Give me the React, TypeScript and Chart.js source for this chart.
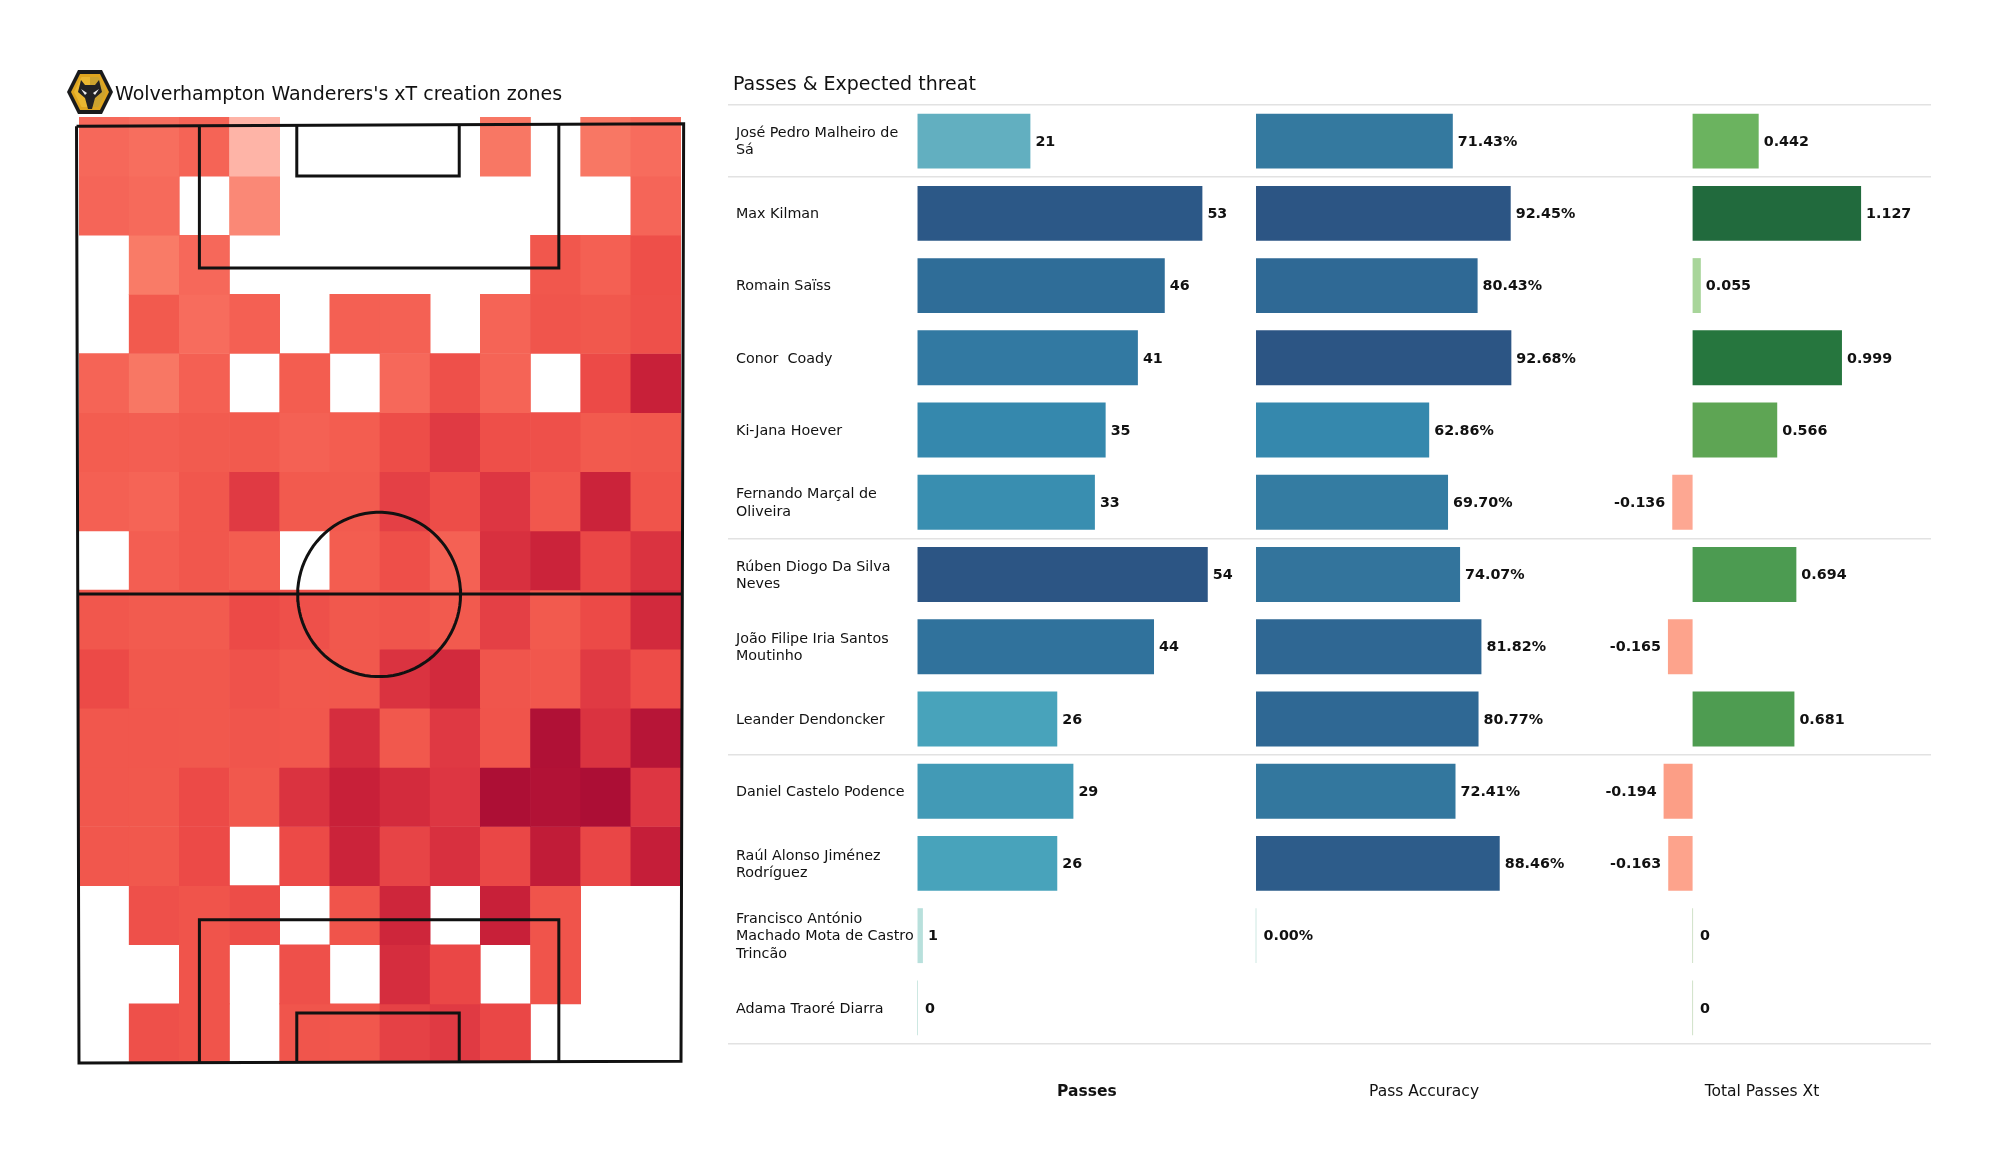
import React, { useEffect, useRef } from "react";
import { Chart, registerables } from "chart.js";

Chart.register(...registerables);

const FONT = "'DejaVu Sans', sans-serif";

// xT creation intensity per zone (row 0 = top of the pitch image); null = no xT
const zones: (number | null)[][] = [
  [0.3, 0.27, 0.33, 0.03, null, null, null, null, 0.22, null, 0.22, 0.28],
  [0.32, 0.29, null, 0.16, null, null, null, null, null, null, null, 0.32],
  [null, 0.2, 0.3, null, null, null, null, null, null, 0.42, 0.36, 0.47],
  [null, 0.4, 0.28, 0.36, null, 0.36, 0.35, null, 0.33, 0.43, 0.41, 0.46],
  [0.33, 0.22, 0.36, null, 0.38, null, 0.3, 0.46, 0.33, null, 0.5, 0.8],
  [0.38, 0.37, 0.39, 0.4, 0.35, 0.38, 0.48, 0.62, 0.47, 0.46, 0.4, 0.41],
  [0.36, 0.33, 0.42, 0.62, 0.4, 0.39, 0.58, 0.48, 0.65, 0.42, 0.78, 0.44],
  [null, 0.37, 0.42, 0.38, null, 0.38, 0.47, 0.35, 0.7, 0.78, 0.52, 0.68],
  [0.42, 0.39, 0.39, 0.5, 0.46, 0.41, 0.43, 0.4, 0.58, 0.4, 0.5, 0.74],
  [0.5, 0.41, 0.41, 0.45, 0.41, 0.41, 0.68, 0.74, 0.43, 0.42, 0.62, 0.49],
  [0.42, 0.42, 0.41, 0.43, 0.42, 0.72, 0.41, 0.63, 0.44, 0.97, 0.68, 0.92],
  [0.42, 0.41, 0.5, 0.41, 0.68, 0.8, 0.73, 0.65, 0.99, 0.96, 1, 0.65],
  [0.42, 0.41, 0.5, null, 0.5, 0.78, 0.55, 0.7, 0.52, 0.85, 0.53, 0.82],
  [null, 0.46, 0.44, 0.48, null, 0.44, 0.76, null, 0.8, 0.44, null, null],
  [null, null, 0.44, null, 0.46, null, 0.72, 0.52, null, 0.44, null, null],
  [null, 0.46, 0.44, null, 0.43, 0.42, 0.57, 0.62, 0.52, null, null, null],
];
const zoneColumns = ["1", "2", "3", "4", "5", "6", "7", "8", "9", "10", "11", "12"];

const heatStops: [number, number[]][] = [
  [0, [255, 190, 178]],
  [0.2, [249, 123, 103]],
  [0.3, [246, 104, 90]],
  [0.4, [242, 90, 78]],
  [0.5, [236, 74, 71]],
  [0.6, [226, 61, 68]],
  [0.7, [216, 48, 63]],
  [0.8, [200, 32, 57]],
  [1, [172, 14, 53]],
];

// Pitch drawn on a 68 x 105 metre frame (the picture is very slightly skewed)
const pitchOutline = [[-0.28, 0.14], [68.3, -0.14], [68, 104.8], [0, 105], [-0.28, 0.14]];
const topBox = [[13.6, 0], [13.6, 16], [54.2, 16], [54.2, 0]];
const topSix = [[24.6, 0], [24.6, 5.7], [42.95, 5.7], [42.95, 0]];
const bottomBox = [[13.6, 105], [13.6, 88.95], [54.2, 88.95], [54.2, 105]];
const bottomSix = [[24.6, 105], [24.6, 99.4], [42.95, 99.4], [42.95, 105]];
const halfway = [[0, 52.5], [68, 52.5]];
const circleRadius = 9.2;

const players = [
  ["José Pedro Malheiro de", "Sá"],
  "Max Kilman",
  "Romain Saïss",
  "Conor  Coady",
  "Ki-Jana Hoever",
  ["Fernando Marçal de", "Oliveira"],
  ["Rúben Diogo Da Silva", "Neves"],
  ["João Filipe Iria Santos", "Moutinho"],
  "Leander Dendoncker",
  "Daniel Castelo Podence",
  ["Raúl Alonso Jiménez", "Rodríguez"],
  ["Francisco António", "Machado Mota de Castro", "Trincão"],
  "Adama Traoré Diarra",
];
const passes = [21, 53, 46, 41, 35, 33, 54, 44, 26, 29, 26, 1, 0];
const accuracy = [71.43, 92.45, 80.43, 92.68, 62.86, 69.7, 74.07, 81.82, 80.77, 72.41, 88.46, 0, null];
const xtTotals = [0.442, 1.127, 0.055, 0.999, 0.566, -0.136, 0.694, -0.165, 0.681, -0.194, -0.163, 0, 0];
const columnTitles = ["Passes", "Pass Accuracy", "Total Passes Xt"];
const columnTitleAt = [31.5, 61, 0.464];
const separatorRows = [0, 1, 6, 9, 13];

const blueStops: [number, number[]][] = [
  [0, [205, 232, 226]],
  [1, [184, 224, 220]],
  [21, [98, 175, 192]],
  [26, [72, 163, 187]],
  [35, [53, 136, 173]],
  [46, [47, 109, 152]],
  [54, [44, 85, 132]],
];
const accuracyStops: [number, number[]][] = [
  [0, [205, 232, 226]],
  [62.86, [53, 136, 173]],
  [71.43, [52, 121, 159]],
  [81, [47, 104, 148]],
  [92.68, [44, 85, 132]],
];
const xtStops: [number, number[]][] = [
  [-0.2, [252, 157, 133]],
  [-0.13, [253, 168, 147]],
  [0, [208, 226, 200]],
  [0.055, [168, 213, 154]],
  [0.442, [107, 179, 95]],
  [0.566, [94, 165, 84]],
  [0.694, [76, 155, 81]],
  [1, [38, 118, 62]],
  [1.127, [33, 106, 61]],
];

function ramp(stops: [number, number[]][], v: number): string {
  if (v <= stops[0][0]) return `rgb(${stops[0][1].join(",")})`;
  for (let i = 1; i < stops.length; i++) {
    if (v <= stops[i][0]) {
      const t = (v - stops[i - 1][0]) / (stops[i][0] - stops[i - 1][0]);
      const c = stops[i - 1][1].map((a, k) => Math.round(a + (stops[i][1][k] - a) * t));
      return `rgb(${c.join(",")})`;
    }
  }
  return `rgb(${stops[stops.length - 1][1].join(",")})`;
}

const pts = (a: number[][]) => a.map(([x, y]) => ({ x, y }));

function circlePoints() {
  const out: { x: number; y: number }[] = [];
  for (let d = 0; d <= 360; d += 4) {
    const r = (d * Math.PI) / 180;
    out.push({ x: 33.9 + circleRadius * Math.cos(r), y: 52.55 + circleRadius * Math.sin(r) });
  }
  return out;
}

const heatTitle = {
  id: "heatTitle",
  afterDraw(chart: any) {
    const c = chart.ctx;
    c.save();
    c.fillStyle = "#111";
    c.font = `19px ${FONT}`;
    c.textBaseline = "middle";
    c.fillText("Wolverhampton Wanderers's xT creation zones", 115, 95);
    c.restore();
  },
};

const barText = {
  id: "barText",
  afterDraw(chart: any) {
    const c = chart.ctx;
    c.save();
    c.fillStyle = "#111";
    c.textBaseline = "middle";
    c.font = `19px ${FONT}`;
    c.textAlign = "left";
    c.fillText("Passes & Expected threat", 13, 85);
    const fmt = [
      (v: number) => String(v),
      (v: number) => `${v.toFixed(2)}%`,
      (v: number) => (v === 0 ? "0" : v.toFixed(3)),
    ];
    chart.data.datasets.forEach((ds: any, i: number) => {
      const meta = chart.getDatasetMeta(i);
      c.font = `bold 14.3px ${FONT}`;
      ds.data.forEach((v: number | null, j: number) => {
        if (v === null) return;
        const el = meta.data[j];
        const neg = v < 0;
        c.textAlign = neg ? "right" : "left";
        const gap = neg ? -7 : v === 0 ? 7 : 5;
        c.fillText(fmt[i](v), (neg ? el.x : Math.max(el.x, el.base)) + gap, el.y + 1);
      });
      c.font = `${i === 0 ? "bold " : ""}15.5px ${FONT}`;
      c.textAlign = "center";
      c.fillText(columnTitles[i], chart.scales[ds.xAxisID].getPixelForValue(columnTitleAt[i]), 1092);
    });
    c.restore();
  },
};

export default function App() {
  const heatRef = useRef<HTMLCanvasElement>(null);
  const barRef = useRef<HTMLCanvasElement>(null);

  useEffect(() => {
    const lineStyle = {
      type: "line" as const,
      xAxisID: "xp",
      yAxisID: "yp",
      borderColor: "#111",
      borderWidth: 3,
      pointRadius: 0,
      fill: false,
      tension: 0,
      clip: false as any,
      order: -1,
    };
    const heat = new Chart(heatRef.current!, {
      type: "bar",
      data: {
        labels: zoneColumns,
        datasets: [
          ...zones.map((row, r) => ({
            type: "bar" as const,
            label: `row ${r + 1}`,
            xAxisID: "x",
            yAxisID: "y",
            grouped: false,
            barPercentage: 1,
            categoryPercentage: 1,
            borderWidth: 0,
            data: row.map((v) => (v === null ? null : [r, r + 1])),
            backgroundColor: row.map((v) => (v === null ? "#fff" : ramp(heatStops, v))),
          })),
          ...[pitchOutline, topBox, topSix, bottomBox, bottomSix, halfway].map((p) => ({
            ...lineStyle,
            data: pts(p),
          })),
          { ...lineStyle, data: circlePoints() },
        ] as any,
      },
      options: {
        responsive: false,
        animation: false,
        layout: { padding: { left: 79, right: 39, top: 117, bottom: 112 } },
        plugins: { legend: { display: false }, tooltip: { enabled: false } },
        scales: {
          x: { type: "category", display: false },
          y: { type: "linear", display: false, min: 0, max: 16, reverse: true },
          xp: { type: "linear", display: false, offset: false, min: 0, max: 68, axis: "x" } as any,
          yp: { type: "linear", display: false, offset: false, min: -0.9, max: 105, reverse: true, axis: "y" } as any,
        },
      },
      plugins: [heatTitle],
    });

    const common = {
      yAxisID: "y",
      grouped: false,
      barPercentage: 0.76,
      categoryPercentage: 1,
      borderWidth: 0,
      minBarLength: 1,
    };
    const bars = new Chart(barRef.current!, {
      type: "bar",
      data: {
        labels: players as any,
        datasets: [
          { ...common, label: columnTitles[0], xAxisID: "x1", data: passes, backgroundColor: passes.map((v) => ramp(blueStops, v)) },
          { ...common, label: columnTitles[1], xAxisID: "x2", data: accuracy, backgroundColor: accuracy.map((v) => ramp(accuracyStops, v ?? 0)) },
          { ...common, label: columnTitles[2], xAxisID: "x3", data: xtTotals, backgroundColor: xtTotals.map((v) => ramp(xtStops, v)) },
        ] as any,
      },
      options: {
        indexAxis: "y",
        responsive: false,
        animation: false,
        layout: { padding: { left: 8, right: 69, top: 105, bottom: 131 } },
        plugins: { legend: { display: false }, tooltip: { enabled: false } },
        scales: {
          x1: { type: "linear", display: false, offset: false, min: -35.26, max: 188.56, axis: "x" } as any,
          x2: { type: "linear", display: false, offset: false, min: -191.65, max: 245, axis: "x" } as any,
          x3: { type: "linear", display: false, offset: false, min: -6.452, max: 1.5946, axis: "x" } as any,
          y: {
            type: "category",
            afterFit: (a: any) => { a.width = 0; },
            border: { display: false },
            grid: {
              offset: true,
              drawTicks: false,
              lineWidth: 1.6,
              color: (ctx: any) => {
                const idx = ctx.index === undefined ? players.length : ctx.index;
                return separatorRows.includes(idx) ? "#e2e2e2" : "rgba(0,0,0,0)";
              },
            },
            ticks: {
              mirror: true,
              padding: 8,
              labelOffset: 1,
              color: "#111",
              autoSkip: false,
              font: { family: FONT, size: 14.3, lineHeight: 1.2 },
            },
          },
        },
      },
      plugins: [barText],
    });
    return () => {
      heat.destroy();
      bars.destroy();
    };
  }, []);

  return (
    <div style={{ position: "absolute", left: 0, top: 0, width: 2000, height: 1175, background: "#fff", overflow: "hidden" }}>
      <canvas ref={heatRef} width={720} height={1175} style={{ position: "absolute", left: 0, top: 0 }} />
      <canvas ref={barRef} width={1280} height={1175} style={{ position: "absolute", left: 720, top: 0 }} />
      <svg width={50} height={50} viewBox="0 0 50 50" style={{ position: "absolute", left: 66, top: 68 }}>
        <polygon points="1,24 12,2 36,2 47,24 36,46 12,46" fill="#1a1b1c" />
        <polygon points="5,24 14,6 34,6 43,24 34,42 14,42" fill="#dfa51f" />
        <polygon points="8,24 15.5,9 32.5,9 40,24 32.5,39 15.5,39" fill="#eab731" />
        <polygon points="24,9 32.5,9 40,24 32.5,39 24,39" fill="#b8962f" opacity="0.6" />
        <polygon points="15,12 19,17 29,17 33,12 36,24 29,30 26,41 22,41 19,30 12,24" fill="#222224" />
        <polygon points="15,21 21,25 19,27" fill="#f0f0f0" />
        <polygon points="33,21 27,25 29,27" fill="#f0f0f0" />
      </svg>
    </div>
  );
}
